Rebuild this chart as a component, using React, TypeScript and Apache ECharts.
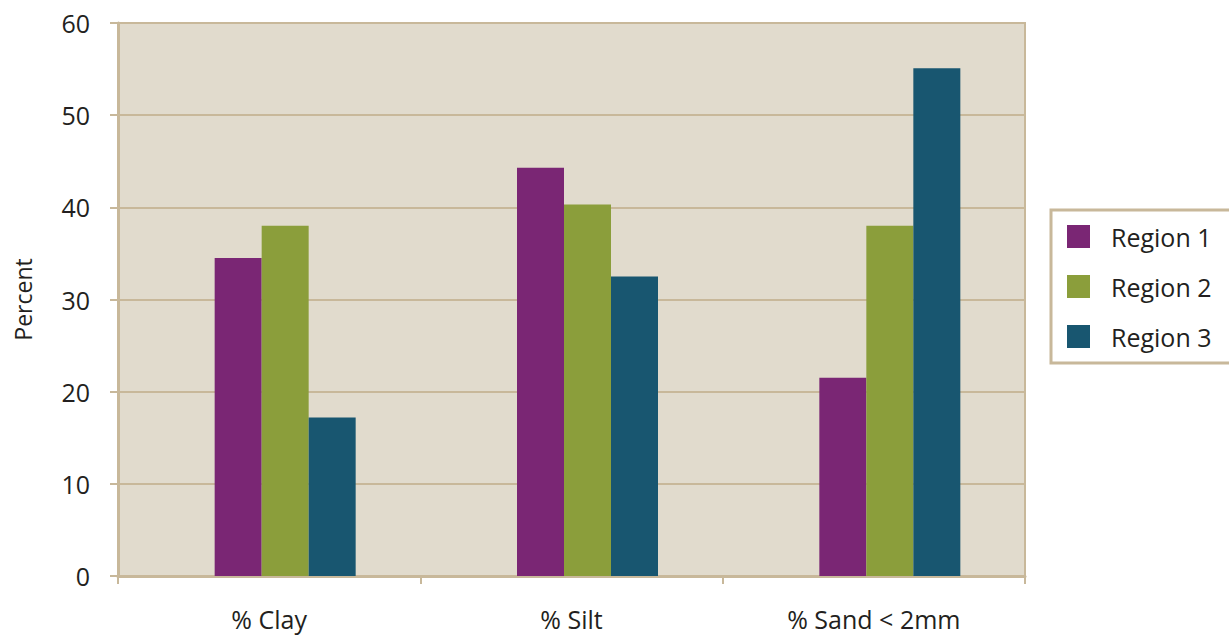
import React, { useEffect, useRef } from "react";
import * as echarts from "echarts";

const categories = ["% Clay", "% Silt", "% Sand < 2mm"];
const seriesNames = ["Region 1", "Region 2", "Region 3"];
const region1 = [34.5, 44.3, 21.5];
const region2 = [38.0, 40.3, 38.0];
const region3 = [17.2, 32.5, 55.1];
const yTicks = { min: 0, max: 60, interval: 10 };
const colors = ["#7a2674", "#8b9e3b", "#185670"];

const FONT = "'Open Sans', 'Noto Sans', sans-serif";
const TAN = "#c8b89a";
const TEXT = "#231f20";

export default function App() {
  const ref = useRef<HTMLDivElement>(null);
  useEffect(() => {
    if (!ref.current) return;
    const chart = echarts.init(ref.current, undefined, { renderer: "svg" });
    const values = [region1, region2, region3];
    chart.setOption({
      animation: false,
      textStyle: { fontFamily: FONT },
      grid: [
        {
          left: 118,
          right: 204,
          top: 23,
          bottom: 59,
          containLabel: false,
          outerBoundsMode: "none",
          show: true,
          backgroundColor: "#e1dbcd",
          borderColor: TAN,
          borderWidth: 2,
        },
        {
          left: 134,
          right: 188,
          top: 23,
          bottom: 59,
          containLabel: false,
          outerBoundsMode: "none",
          show: false,
        },
      ],
      legend: {
        orient: "vertical",
        left: 1051,
        top: 210,
        data: seriesNames,
        icon: "rect",
        itemWidth: 23,
        itemHeight: 23,
        itemGap: 25,
        padding: [14, 60, 14, 16],
        borderColor: TAN,
        borderWidth: 3,
        textStyle: { fontSize: 25, color: TEXT, fontFamily: FONT, padding: [0, 0, 0, 16] },
      },
      xAxis: [
        {
          type: "category",
          gridIndex: 0,
          data: categories,
          axisLine: { lineStyle: { color: TAN, width: 3 } },
          axisTick: { show: true, length: 8, lineStyle: { color: TAN, width: 2 } },
          axisLabel: { fontSize: 25, color: TEXT, margin: 30, fontFamily: FONT },
        },
        {
          type: "category",
          gridIndex: 1,
          data: categories,
          show: false,
        },
      ],
      yAxis: [
        {
          type: "value",
          gridIndex: 0,
          min: yTicks.min,
          max: yTicks.max,
          interval: yTicks.interval,
          name: "Percent",
          nameLocation: "middle",
          nameGap: 84,
          nameRotate: 90,
          nameTextStyle: { fontSize: 23, color: TEXT, fontFamily: FONT },
          axisLine: { show: true, lineStyle: { color: TAN, width: 3 } },
          axisTick: { show: true, length: 8, lineStyle: { color: TAN, width: 2 } },
          axisLabel: { fontSize: 25, color: TEXT, margin: 28, fontFamily: FONT },
          splitLine: { show: true, lineStyle: { color: TAN, width: 2 } },
        },
        {
          type: "value",
          gridIndex: 1,
          min: yTicks.min,
          max: yTicks.max,
          interval: yTicks.interval,
          show: false,
          splitLine: { show: false },
        },
      ],
      series: seriesNames.map((name, i) => ({
        name,
        type: "bar",
        xAxisIndex: 1,
        yAxisIndex: 1,
        data: values[i],
        barWidth: 47,
        barGap: "0%",
        itemStyle: { color: colors[i] },
      })),
    });
    return () => chart.dispose();
  }, []);
  return (
    <div
      ref={ref}
      style={{ position: "fixed", left: 0, top: 0, width: 1229, height: 635, background: "#fff" }}
    />
  );
}
